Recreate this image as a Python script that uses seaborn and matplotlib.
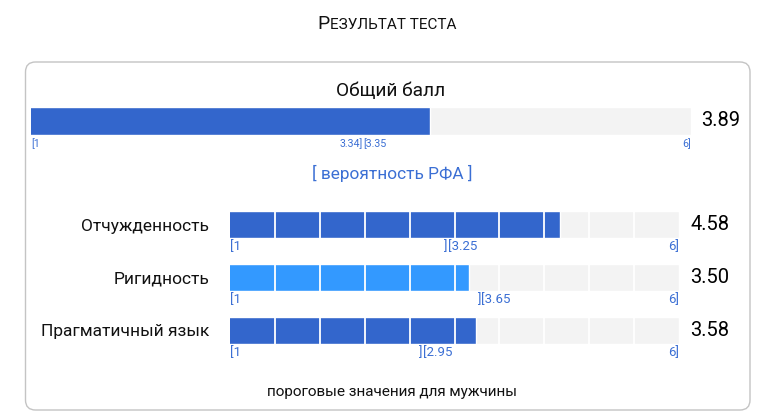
import numpy as np
import pandas as pd
import matplotlib.pyplot as plt
import seaborn as sns
from matplotlib.patches import FancyBboxPatch

# данные
total_name = 'Общий балл'
total_value = 3.89
total_low = '3.34'
total_high = '3.35'

scale_names = ['Отчужденность', 'Ригидность', 'Прагматичный язык']
scale_values = [4.58, 3.50, 3.58]
scale_thresholds = [3.25, 3.65, 2.95]

scale_min = 1
scale_max = 6
axis_start = 0.66   # шкала на картинке начинается чуть левее единицы

dark_blue = '#3366cc'
light_blue = '#3399ff'
grey = '#f3f3f3'
label_blue = '#3b6fd4'

sns.set_theme(style='white')
plt.rcParams['font.family'] = ['Roboto', 'DejaVu Sans']

fig = plt.figure(figsize=(7.72, 4.13), dpi=100)

# фон в пикселях: рамка и свободные подписи
bg = fig.add_axes([0, 0, 1, 1], zorder=0)
bg.set_xlim(0, 772)
bg.set_ylim(413, 0)
bg.axis('off')
bg.add_patch(FancyBboxPatch((25.5, 62), 724.5, 348,
                            boxstyle='round,pad=0,rounding_size=10',
                            facecolor='white', edgecolor='#c4c4c4', lw=1))
bg.text(330, 29, 'Р', fontsize=14, ha='right', va='baseline', color='#111111')
bg.text(330.5, 29, 'ЕЗУЛЬТАТ ТЕСТА', fontsize=11, ha='left', va='baseline', color='#111111')
bg.text(391, 91, total_name, fontsize=13.8, ha='center', va='center', color='#111111')
bg.text(392, 173, '[ вероятность РФА ]', fontsize=12.4, ha='center', va='center', color=label_blue)
bg.text(392, 392, 'пороговые значения для мужчины', fontsize=11, ha='center', va='center', color='#111111')

# общий балл
ax_top = fig.add_axes([31 / 772, 1 - 135 / 413, 660 / 772, 28 / 413], zorder=1)
top_color = dark_blue if total_value >= float(total_high) else light_blue
sns.barplot(x=[scale_max], y=[total_name], color=grey, width=1, saturation=1, ax=ax_top, orient='h')
sns.barplot(x=[total_value], y=[total_name], color=top_color, width=1, saturation=1, ax=ax_top, orient='h')
ax_top.set_xlim(axis_start, scale_max)
ax_top.set_ylim(0.5, -0.5)
ax_top.axis('off')
top_thr = (float(total_low) + float(total_high)) / 2
for x, s, ha in [(axis_start, f'[{scale_min}', 'left'),
                 (top_thr, f'{total_low}]', 'right'),
                 (top_thr, f'[{total_high}', 'left'),
                 (scale_max, f'{scale_max}]', 'right')]:
    ax_top.text(x, 0.6, s, fontsize=7.7, color=label_blue, ha=ha, va='top', clip_on=False)
ax_top.annotate(f'{total_value:.2f}', xy=(1, 0), xycoords=('axes fraction', 'data'),
                xytext=(7.5, 0), textcoords='offset points', fontsize=14.5,
                ha='left', va='center', color='black')

# подшкалы
ax_sub = fig.add_axes([230 / 772, 1 - 344 / 413, 449 / 772, 133 / 413], zorder=1)
df = pd.DataFrame({'name': scale_names, 'value': scale_values, 'thr': scale_thresholds})
colors = [dark_blue if v >= t else light_blue for v, t in zip(scale_values, scale_thresholds)]
sns.barplot(data=df, x=[scale_max] * len(df), y='name', color=grey, width=0.51,
            saturation=1, ax=ax_sub, orient='h')
sns.barplot(data=df, x='value', y='name', hue='name', palette=colors, width=0.51,
            saturation=1, legend=False, ax=ax_sub, orient='h')
for x in np.linspace(axis_start, scale_max, 11)[1:-1]:
    ax_sub.axvline(x, color='white', lw=1.3, zorder=2)
ax_sub.set_xlim(axis_start, scale_max)
ax_sub.set_ylim(2.255, -0.255)
ax_sub.set_xlabel('')
ax_sub.set_ylabel('')
ax_sub.set_xticks([])
ax_sub.tick_params(axis='y', length=0, pad=15, labelsize=12.5, labelcolor='#111111')
sns.despine(ax=ax_sub, left=True, bottom=True)

for i, (v, t) in enumerate(zip(scale_values, scale_thresholds)):
    y = i + 0.255 + 0.04
    ax_sub.text(axis_start, y, f'[{scale_min}', fontsize=9.5, color=label_blue, ha='left', va='top', zorder=3)
    ax_sub.text(t, y, ']', fontsize=9.5, color=label_blue, ha='right', va='top', zorder=3)
    ax_sub.text(t, y, f'[{t:.2f}', fontsize=9.5, color=label_blue, ha='left', va='top', zorder=3)
    ax_sub.text(scale_max, y, f'{scale_max}]', fontsize=9.5, color=label_blue, ha='right', va='top', zorder=3)
    ax_sub.annotate(f'{v:.2f}', xy=(1, i), xycoords=('axes fraction', 'data'),
                    xytext=(8, 0), textcoords='offset points', fontsize=14.5,
                    ha='left', va='center', color='black')

plt.savefig('out.png', dpi=100)
